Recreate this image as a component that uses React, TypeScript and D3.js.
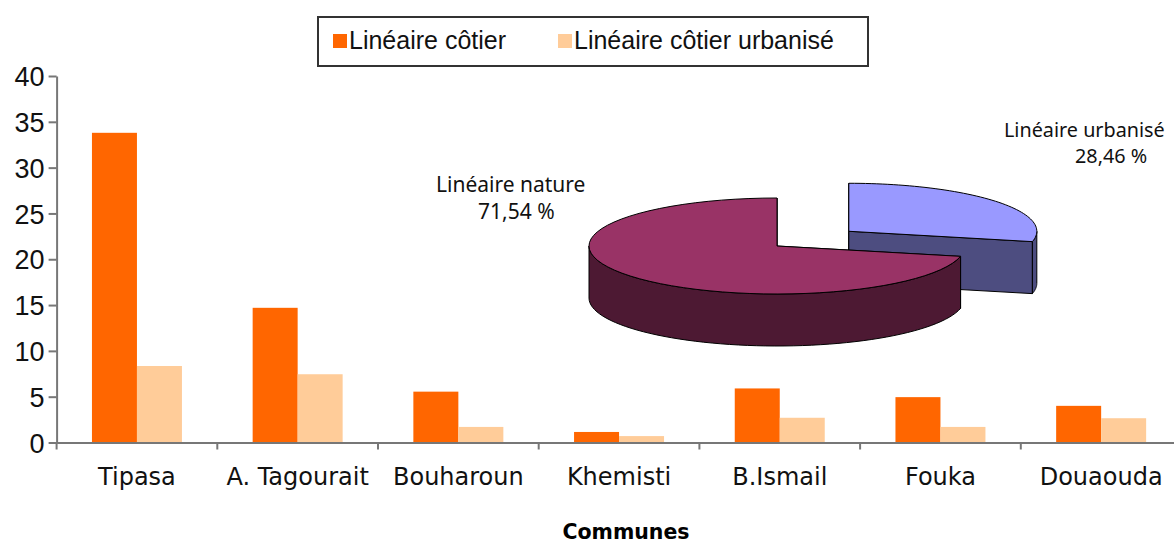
import React, { useRef, useEffect } from 'react'
import * as d3 from 'd3'

const communes = ['Tipasa', 'A. Tagourait', 'Bouharoun', 'Khemisti', 'B.Ismail', 'Fouka', 'Douaouda']
const lineaireCotier = [33.8, 14.7, 5.55, 1.15, 5.9, 4.95, 4.0]
const lineaireUrbanise = [8.35, 7.45, 1.7, 0.7, 2.7, 1.7, 2.65]
const seriesNames = ['Linéaire côtier', 'Linéaire côtier urbanisé']
const seriesColors = ['#ff6600', '#ffcc99']
const yTicks = [0, 5, 10, 15, 20, 25, 30, 35, 40]

const pieNames = ['Linéaire urbanisé', 'Linéaire nature']
const pieValues = [28.46, 71.54]
const pieTexts = ['28,46 %', '71,54 %']

const W = 1174
const H = 544

const App = () => {
  const svgRef = useRef<SVGSVGElement | null>(null)

  useEffect(() => {
    const svg = d3.select(svgRef.current).attr('width', W).attr('height', H)
    svg.selectAll('*').remove()

    const axisColor = '#777'

    // scales
    const x = d3.scaleBand<string>().domain(communes).range([56.6, 1181.5]).padding(0)
    const bw = x.bandwidth()
    const x1 = d3.scaleBand<number>().domain([0, 1]).range([bw * 0.22, bw * 0.78]).padding(0)
    const y = d3.scaleLinear().domain([0, 40]).range([442.5, 76])

    // bars
    const series = [lineaireCotier, lineaireUrbanise]
    series.forEach((vals, si) => {
      svg
        .append('g')
        .selectAll('rect')
        .data(vals)
        .enter()
        .append('rect')
        .attr('x', (d, i) => x(communes[i])! + x1(si)!)
        .attr('y', (d) => y(d))
        .attr('width', x1.bandwidth())
        .attr('height', (d) => y(0) - y(d))
        .attr('fill', seriesColors[si])
    })

    // y axis
    const gy = svg
      .append('g')
      .attr('transform', 'translate(56.6,0)')
      .call(d3.axisLeft(y).tickValues(yTicks).tickSize(8).tickSizeOuter(0).tickPadding(4))
    gy.select('.domain').attr('stroke', axisColor).attr('stroke-width', 2)
    gy.selectAll('.tick line').attr('stroke', axisColor).attr('stroke-width', 2)
    gy.selectAll('.tick text')
      .attr('font-family', 'Arial, "Liberation Sans", sans-serif')
      .attr('font-size', 27)
      .attr('fill', '#111')
      .attr('dy', '0.36em')

    // x axis
    const gx = svg
      .append('g')
      .attr('transform', `translate(0,${y(0)})`)
      .call(d3.axisBottom(x).tickSize(0).tickSizeOuter(0).tickPadding(25))
    gx.select('.domain').attr('stroke', axisColor).attr('stroke-width', 2)
    gx.selectAll('.tick text')
      .attr('font-family', '"DejaVu Sans", Verdana, sans-serif')
      .attr('font-size', 24)
      .attr('fill', '#111')
    gx.selectAll('line.bound')
      .data(communes)
      .enter()
      .append('line')
      .attr('class', 'bound')
      .attr('x1', (d) => x(d)!)
      .attr('x2', (d) => x(d)!)
      .attr('y1', 0)
      .attr('y2', 7)
      .attr('stroke', axisColor)
      .attr('stroke-width', 2)

    // axis title
    svg
      .append('text')
      .attr('x', 626)
      .attr('y', 539)
      .attr('text-anchor', 'middle')
      .attr('font-family', '"DejaVu Sans", Verdana, sans-serif')
      .attr('font-weight', 'bold')
      .attr('font-size', 20.5)
      .attr('fill', '#000')
      .text('Communes')

    // legend
    const lg = svg.append('g')
    lg.append('rect')
      .attr('x', 318)
      .attr('y', 17)
      .attr('width', 550)
      .attr('height', 49)
      .attr('fill', '#fff')
      .attr('stroke', '#333')
      .attr('stroke-width', 2)
    const legendX = [333, 558]
    seriesNames.forEach((name, i) => {
      lg.append('rect')
        .attr('x', legendX[i])
        .attr('y', 34)
        .attr('width', 14)
        .attr('height', 14)
        .attr('fill', seriesColors[i])
      lg.append('text')
        .attr('x', legendX[i] + 16)
        .attr('y', 49)
        .attr('font-family', 'Arial, "Liberation Sans", sans-serif')
        .attr('font-size', 25)
        .attr('fill', '#111')
        .text(name)
    })

    // 3D pie
    const arcs = d3.pie<number>().sort(null)(pieValues)
    const cx = 777
    const cy = 246
    const rx = 188
    const ry = 48
    const depth = 52
    const styles = [
      { top: '#9999ff', side: '#4d4d80', explode: 0.49 },
      { top: '#993366', side: '#4d1933', explode: 0 },
    ]
    const pg = svg.append('g').attr('stroke', '#000').attr('stroke-width', 1).attr('stroke-linejoin', 'round')
    const line = d3.line<[number, number]>()
    arcs.forEach((a, i) => {
      const st = styles[i]
      const mid = (a.startAngle + a.endAngle) / 2
      const ox = cx + rx * Math.sin(mid) * st.explode
      const oy = cy - ry * Math.cos(mid) * st.explode
      const pt = (ang: number, dz = 0): [number, number] => [ox + rx * Math.sin(ang), oy - ry * Math.cos(ang) + dz]
      const arcPts = (a0: number, a1: number, dz = 0) =>
        d3.range(0, 61).map((k) => pt(a0 + ((a1 - a0) * k) / 60, dz))

      // radial faces
      ;[a.startAngle, a.endAngle].forEach((ang) => {
        const p = pt(ang)
        const q = pt(ang, depth)
        pg.append('path')
          .attr('d', line([[ox, oy], p, q, [ox, oy + depth]])! + 'Z')
          .attr('fill', st.side)
      })
      // outer wall (front half)
      const s = Math.max(a.startAngle, Math.PI / 2)
      const e = Math.min(a.endAngle, (3 * Math.PI) / 2)
      if (e > s) {
        const pts = arcPts(s, e).concat(arcPts(s, e, depth).reverse())
        pg.append('path').attr('d', line(pts)! + 'Z').attr('fill', st.side)
      }
      // top face
      const topPts: [number, number][] = [[ox, oy], ...arcPts(a.startAngle, a.endAngle)]
      pg.append('path').attr('d', line(topPts)! + 'Z').attr('fill', st.top)
    })

    // pie labels
    const labelPos = [
      { x1: 1004, y1: 137, x2: 1075, y2: 163, size: 19.8 },
      { x1: 436, y1: 192, x2: 478, y2: 219, size: 21 },
    ]
    pieNames.forEach((name, i) => {
      const p = labelPos[i]
      svg.append('text')
        .attr('x', p.x1)
        .attr('y', p.y1)
        .attr('font-family', '"Noto Sans", sans-serif')
        .attr('font-size', p.size)
        .attr('fill', '#111')
        .text(name)
      svg.append('text')
        .attr('x', p.x2)
        .attr('y', p.y2)
        .attr('font-family', '"Noto Sans", sans-serif')
        .attr('font-size', p.size)
        .attr('fill', '#111')
        .text(pieTexts[i])
    })
  }, [])

  return <svg ref={svgRef} style={{ position: 'absolute', left: 0, top: 0, background: '#fff' }} />
}

export default App
